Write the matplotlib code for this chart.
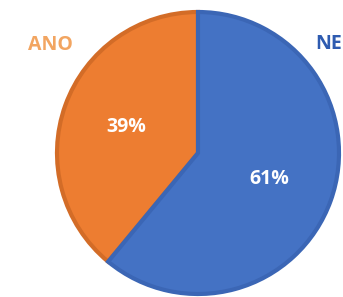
import matplotlib.pyplot as plt

# data
labels = ["ANO", "NE"]
values = [39, 61]
colors = ["#ED7D31", "#4472C4"]
edge_colors = ["#D36C27", "#3B66B5"]
label_colors = ["#F2A561", "#2E5BB0"]

plt.rcParams['font.family'] = ['Open Sans', 'DejaVu Sans']

fig = plt.figure(figsize=(3.43, 2.97), dpi=100)
ax = fig.add_axes([0, 0, 1, 1])

wedges, texts, autotexts = ax.pie(
    values, colors=colors, startangle=90, counterclock=True,
    center=(198, 144), radius=141, autopct='%d%%', pctdistance=0.54,
    wedgeprops=dict(linewidth=3),
    textprops=dict(color='white', fontsize=14, fontweight='bold'),
    frame=True)
for w, ec in zip(wedges, edge_colors):
    w.set_edgecolor(ec)

ax.set_xlim(0, 343)
ax.set_ylim(0, 297)
ax.set_aspect('equal')
ax.axis('off')

# corner labels
ax.text(50, 252, labels[0], color=label_colors[0], fontsize=14,
        fontweight='bold', ha='center', va='center')
ax.text(342, 253, labels[1], color=label_colors[1], fontsize=14,
        fontweight='bold', ha='right', va='center')

fig.savefig("out.png", dpi=100)
